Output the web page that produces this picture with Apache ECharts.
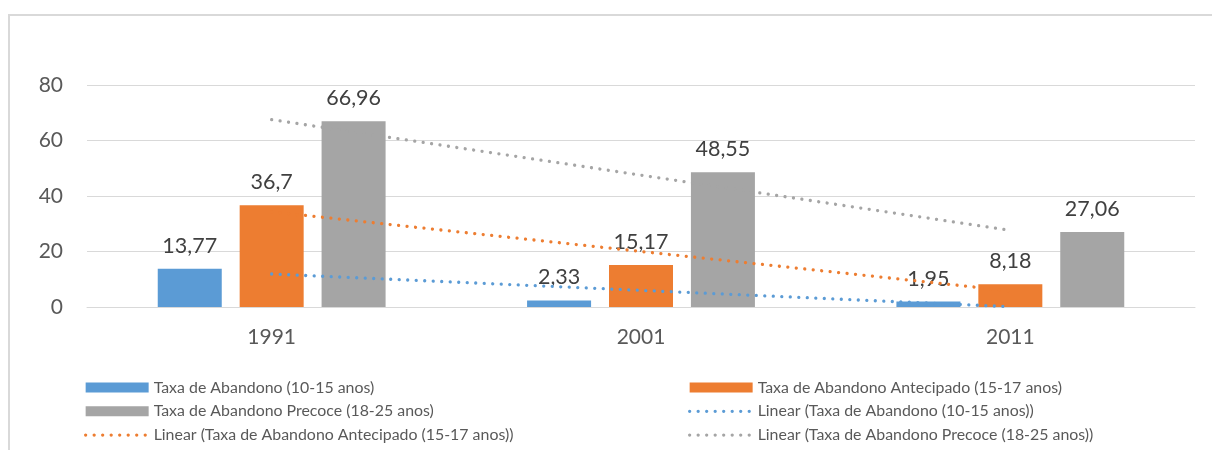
<!DOCTYPE html>
<html>
<head>
<meta charset="utf-8">
<script src="https://cdn.jsdelivr.net/npm/echarts@6/dist/echarts.min.js"></script>
<style>
html,body{margin:0;padding:0;background:#fff;}
#frame{position:absolute;left:8px;top:14px;width:1210px;height:440px;border-left:2px solid #d9d9d9;border-top:2px solid #d9d9d9;}
#chart{position:absolute;left:0;top:0;width:1212px;height:450px;}
</style>
</head>
<body>
<div id="frame"></div>
<div id="chart"></div>
<script>
const categories = ['1991', '2001', '2011'];
const seriesNames = [
  'Taxa de Abandono (10-15 anos)',
  'Taxa de Abandono Antecipado (15-17 anos)',
  'Taxa de Abandono Precoce (18-25 anos)'
];
const abandono = [13.77, 2.33, 1.95];
const antecipado = [36.7, 15.17, 8.18];
const precoce = [66.96, 48.55, 27.06];
// trendline values
const trendAbandono = [11.9, 6.0, 0.1];
const trendAntecipado = [34.3, 20.0, 5.8];
const trendPrecoce = [67.5, 47.5, 27.6];
const yTicks = [0, 20, 40, 60, 80];

const colors = ['#5b9bd5', '#ed7d31', '#a5a5a5'];
const FONT = 'Lato, "Liberation Sans", sans-serif';

const chart = echarts.init(document.getElementById('chart'), null, {renderer: 'canvas'});

function barSeries(name, data, color) {
  return {
    name: name, type: 'bar', data: data, barWidth: 64, barGap: '28%',
    itemStyle: {color: color},
    label: {
      show: true, position: 'top', distance: 12,
      fontFamily: FONT, fontSize: 21.5, color: '#404040',
      formatter: p => String(p.value).replace('.', ',')
    },
    z: 2
  };
}
function trendSeries(name, data, color) {
  return {
    name: 'Linear (' + name + ')', type: 'line', data: data,
    symbol: 'none', silent: true,
    lineStyle: {color: color, width: 3.3, type: [0.01, 8.5], cap: 'round'},
    itemStyle: {color: color},
    z: 5
  };
}

const legendText = {fontFamily: FONT, fontSize: 15.9, color: '#595959', lineHeight: 16};
const hiddenSym = {color: 'rgba(0,0,0,0)', borderWidth: 0};
const legendLine = {width: 3.3, type: [0.01, 8.5], cap: 'round'};

chart.setOption({
  animation: false,
  textStyle: {fontFamily: FONT},
  grid: {left: 87, right: 17, top: 85, bottom: 143, containLabel: false},
  legend: [
    {
      orient: 'vertical', left: 84, top: 379.5, height: 90, padding: 0,
      itemWidth: 63, itemHeight: 10, itemGap: 7.8,
      textStyle: legendText, lineStyle: legendLine,
      data: [
        {name: seriesNames[0], icon: 'rect'},
        {name: seriesNames[2], icon: 'rect'},
        {name: 'Linear (' + seriesNames[1] + ')', itemStyle: hiddenSym}
      ]
    },
    {
      orient: 'vertical', left: 688, top: 379.5, height: 90, padding: 0,
      itemWidth: 63, itemHeight: 10, itemGap: 7.8,
      textStyle: legendText, lineStyle: legendLine,
      data: [
        {name: seriesNames[1], icon: 'rect'},
        {name: 'Linear (' + seriesNames[0] + ')', itemStyle: hiddenSym},
        {name: 'Linear (' + seriesNames[2] + ')', itemStyle: hiddenSym}
      ]
    }
  ],
  xAxis: {
    type: 'category', data: categories, boundaryGap: true,
    axisLine: {lineStyle: {color: '#d9d9d9', width: 1}},
    axisTick: {show: false},
    axisLabel: {fontFamily: FONT, fontSize: 21, color: '#595959', margin: 20}
  },
  yAxis: {
    type: 'value', min: yTicks[0], max: yTicks[yTicks.length - 1], interval: 20,
    axisLine: {show: false}, axisTick: {show: false},
    splitLine: {lineStyle: {color: '#d9d9d9', width: 1}},
    axisLabel: {fontFamily: FONT, fontSize: 21, color: '#595959', margin: 24}
  },
  series: [
    barSeries(seriesNames[0], abandono, colors[0]),
    barSeries(seriesNames[1], antecipado, colors[1]),
    barSeries(seriesNames[2], precoce, colors[2]),
    trendSeries(seriesNames[0], trendAbandono, colors[0]),
    trendSeries(seriesNames[1], trendAntecipado, colors[1]),
    trendSeries(seriesNames[2], trendPrecoce, colors[2])
  ]
});
</script>
</body>
</html>
